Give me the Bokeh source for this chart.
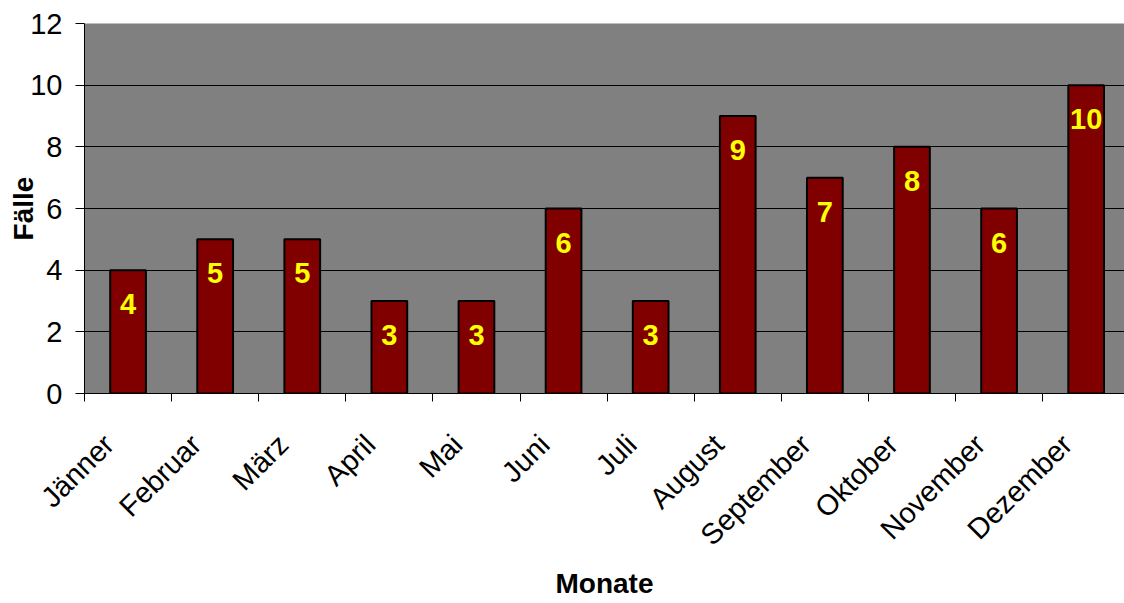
import math
from bokeh.plotting import figure
from bokeh.models import FixedTicker, Range1d, ColumnDataSource
from bokeh.core.properties import value
from bokeh.embed import file_html
from bokeh.resources import INLINE

months = ["Jänner", "Februar", "März", "April", "Mai", "Juni", "Juli",
          "August", "September", "Oktober", "November", "Dezember"]
cases = [4, 5, 5, 3, 3, 6, 3, 9, 7, 8, 6, 10]
y_ticks = [0, 2, 4, 6, 8, 10, 12]

xpos = [i + 0.5 for i in range(len(months))]
label_pos = [x - 0.22 for x in xpos]   # Excel-style anchor of rotated labels
src = ColumnDataSource(dict(x=xpos, top=cases, lab=[str(c) for c in cases]))

FONT = "Liberation Sans"

p = figure(width=1124, height=603, output_backend="svg", toolbar_location=None,
           x_range=Range1d(0, 11.94), y_range=Range1d(0, 12),
           min_border_left=84, min_border_right=0, min_border_top=23,
           min_border_bottom=210)
p.background_fill_color = "#808080"
p.border_fill_color = "white"
p.outline_line_color = None

p.vbar(x="x", top="top", width=0.41, source=src, fill_color="#800000",
       line_color="black", line_width=2)
p.text(x="x", y="top", text="lab", source=src, y_offset=34,
       text_align="center", text_baseline="middle",
       text_font=value(FONT), text_font_style="bold",
       text_font_size="29px", text_color="#FFFF00")

# grid
p.xgrid.visible = False
p.ygrid.ticker = FixedTicker(ticks=y_ticks[1:-1])
p.ygrid.grid_line_color = "black"
p.ygrid.grid_line_width = 1

# x axis
xa = p.xaxis[0]
xa.ticker = FixedTicker(ticks=label_pos, minor_ticks=list(range(len(months) + 1)))
xa.major_label_overrides = {x: m for x, m in zip(label_pos, months)}
xa.major_tick_line_color = None
xa.major_tick_in = 0
xa.major_tick_out = 0
xa.minor_tick_in = 0
xa.minor_tick_out = 8
xa.minor_tick_line_color = "black"
xa.axis_line_color = "black"
xa.major_label_orientation = math.pi / 4
xa.major_label_text_font = FONT
xa.major_label_text_font_size = "29px"
xa.major_label_text_color = "black"
xa.major_label_standoff = 38
xa.axis_label = "Monate"
xa.axis_label_text_font = FONT
xa.axis_label_text_font_style = "bold"
xa.axis_label_text_font_size = "28px"
xa.axis_label_text_color = "black"
xa.axis_label_standoff = 3

# y axis
ya = p.yaxis[0]
ya.ticker = FixedTicker(ticks=y_ticks)
ya.minor_tick_line_color = None
ya.major_tick_in = 0
ya.major_tick_out = 9
ya.major_tick_line_color = "black"
ya.axis_line_color = "black"
ya.major_label_text_font = FONT
ya.major_label_text_font_size = "29px"
ya.major_label_text_color = "black"
ya.major_label_standoff = 13
ya.axis_label = "Fälle"
ya.axis_label_text_font = FONT
ya.axis_label_text_font_style = "bold"
ya.axis_label_text_font_size = "28px"
ya.axis_label_text_color = "black"
ya.axis_label_standoff = -12

open("out.html", "w").write(file_html(p, INLINE))
